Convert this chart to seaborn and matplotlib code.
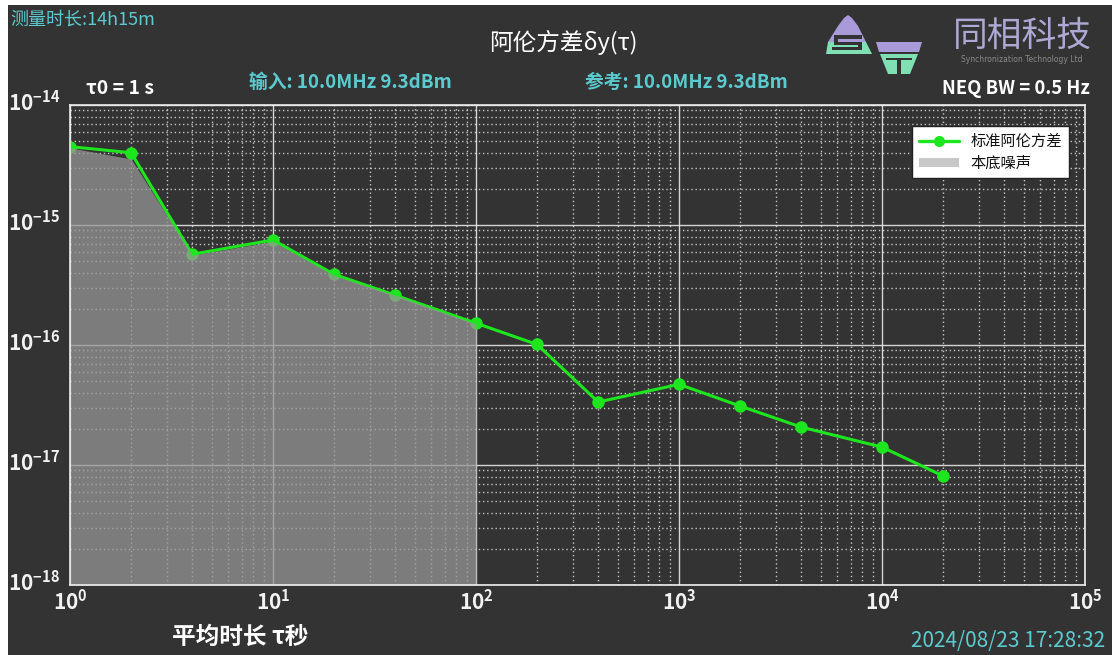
import numpy as np
import pandas as pd
import matplotlib
matplotlib.use("Agg")
import matplotlib.pyplot as plt
from matplotlib.patches import Rectangle, Polygon, Patch
from matplotlib.lines import Line2D
from matplotlib.ticker import LogLocator, FixedLocator
from matplotlib.transforms import ScaledTranslation
import seaborn as sns

# ---- data ----
taus = [1, 2, 4, 10, 20, 40, 100, 200, 400, 1000, 2000, 4000, 10000, 20000]
adev = [4.5e-15, 4.0e-15, 5.7e-16, 7.5e-16, 3.88e-16, 2.6e-16, 1.52e-16,
        1.01e-16, 3.35e-17, 4.7e-17, 3.1e-17, 2.07e-17, 1.41e-17, 8.1e-18]
noise_taus = [1, 2, 4, 10, 20, 40, 100]
noise_floor = [4.4e-15, 3.55e-15, 5.6e-16, 7.3e-16, 3.8e-16, 2.6e-16, 1.5e-16]
x_ticks = [1e0, 1e1, 1e2, 1e3, 1e4, 1e5]
y_ticks = [1e-18, 1e-17, 1e-16, 1e-15, 1e-14]

title_text = "阿伦方差δy(τ)"
duration_text = "测量时长:14h15m"
tau0_text = "τ0 = 1 s"
input_text = "输入: 10.0MHz 9.3dBm"
ref_text = "参考: 10.0MHz 9.3dBm"
neq_text = "NEQ BW = 0.5 Hz"
xlabel_text = "平均时长 τ秒"
stamp_text = "2024/08/23 17:28:32"
legend_labels = ["标准阿伦方差", "本底噪声"]

sns.set_theme(style="dark")
plt.rcParams['font.family'] = ['Noto Sans CJK SC', 'DejaVu Sans']
plt.rcParams['mathtext.default'] = 'regular'
plt.rcParams['axes.unicode_minus'] = False

BG = '#333333'
CYAN = '#5ccbcf'
GREEN = '#1ee61e'

W, H = 1112, 655
fig = plt.figure(figsize=(W / 100, H / 100), dpi=100)
fig.patch.set_facecolor('white')
fig.add_artist(Rectangle((8 / W, 0), 1 - 8 / W, 1 - 5 / H, transform=fig.transFigure,
                         facecolor=BG, edgecolor='none', zorder=-10))

ax = fig.add_axes([70 / W, 1 - 585 / H, (1085 - 70) / W, (585 - 105) / H])
ax.set_facecolor(BG)
ax.set_xscale('log')
ax.set_yscale('log')
ax.set_xlim(1, 1e5)
ax.set_ylim(1e-18, 1e-14)

df = pd.DataFrame({'tau': taus, 'adev': adev})
sns.lineplot(data=df, x='tau', y='adev', ax=ax, color=GREEN, marker='o',
             markersize=9, markeredgewidth=0, linewidth=2.2, zorder=1)

# noise floor (drawn over the line, semi-transparent, as in the reference)
ax.fill_between(noise_taus, [1e-18] * len(noise_taus), noise_floor,
                color='#969696', alpha=0.75, linewidth=0, zorder=2)

ax.set_axisbelow(True)
ax.xaxis.set_major_locator(FixedLocator(x_ticks))
ax.yaxis.set_major_locator(FixedLocator(y_ticks))
ax.xaxis.set_minor_locator(LogLocator(base=10, subs=np.arange(2, 10)))
ax.yaxis.set_minor_locator(LogLocator(base=10, subs=np.arange(2, 10)))
ax.grid(True, which='major', color='#e8e8e8', linewidth=1.0, linestyle='-', alpha=0.9, zorder=2.5)
ax.grid(True, which='minor', color='#e0e0e0', linewidth=1.0, linestyle=(0, (1, 2)), alpha=0.85,
        zorder=2.5)
for gl in ax.get_xgridlines() + ax.get_ygridlines():
    gl.set_zorder(2.5)
for t in ax.xaxis.get_minor_ticks() + ax.yaxis.get_minor_ticks():
    t.gridline.set_zorder(2.5)

ax.set_xticklabels([r'10$^{%d}$' % int(np.log10(v)) for v in x_ticks])
ax.set_yticklabels([r'10$^{%d}$' % int(np.log10(v)) for v in y_ticks])
ax.tick_params(axis='both', which='major', length=0, labelsize=15, colors='#f2f2f2')
ax.tick_params(axis='x', which='major', pad=3)
ax.tick_params(axis='y', which='major', pad=7)
ax.tick_params(axis='both', which='minor', length=3, direction='in', color='#dddddd', width=1)
for lab in ax.get_xticklabels() + ax.get_yticklabels():
    lab.set_fontweight('semibold')
shift_up = ScaledTranslation(0, 4 / 100, fig.dpi_scale_trans)
for lab in ax.get_yticklabels():
    lab.set_transform(lab.get_transform() + shift_up)
for s in ax.spines.values():
    s.set_color('#eeeeee')
    s.set_linewidth(1.2)
    s.set_visible(True)
    s.set_zorder(4)
ax.set_xlabel('')
ax.set_ylabel('')

# legend
handles = [Line2D([0], [0], color=GREEN, marker='o', markersize=8, linewidth=2.4, markeredgewidth=0),
           Patch(facecolor='#c8c8c8', edgecolor='none')]
leg = ax.legend(handles, legend_labels, loc='upper right', bbox_to_anchor=(0.992, 0.972),
                frameon=True, fancybox=False, fontsize=11, handlelength=2.6,
                borderpad=0.45, labelspacing=0.3, handleheight=0.55)
leg.get_frame().set_facecolor('white')
leg.get_frame().set_edgecolor('#222222')
leg.get_frame().set_alpha(1)
leg.set_zorder(5)
for t in leg.get_texts():
    t.set_color('#111111')

# texts
fig.text(10 / W, 1 - 20 / H, duration_text, color=CYAN, fontsize=13, va='center', ha='left')
fig.text(563 / W, 1 - 42 / H, title_text, color='white', fontsize=17, va='center', ha='center')
fig.text(120 / W, 1 - 88 / H, tau0_text, color='white', fontsize=14, va='center', ha='center',
         fontweight='bold')
fig.text(350 / W, 1 - 82 / H, input_text, color=CYAN, fontsize=13.5, va='center', ha='center',
         fontweight='bold')
fig.text(686 / W, 1 - 82 / H, ref_text, color=CYAN, fontsize=13.5, va='center', ha='center',
         fontweight='bold')
fig.text(1016 / W, 1 - 88 / H, neq_text, color='white', fontsize=13.3, va='center', ha='center',
         fontweight='bold')
fig.text(240 / W, 1 - 637 / H, xlabel_text, color='white', fontsize=17, va='center', ha='center',
         fontweight='bold')
fig.text(1008 / W, 1 - 641 / H, stamp_text, color=CYAN, fontsize=15, va='center', ha='center')

# logo
lax = fig.add_axes([826 / W, 1 - 76 / H, 100 / W, 64 / H])
lax.set_xlim(0, 100)
lax.set_ylim(64, 0)
lax.axis('off')
LAV = '#a99bd9'
MINT = '#7fe0b4'
lax.add_patch(Polygon([[2, 30], [12, 14], [18, 6], [22, 3], [26, 6], [32, 14], [40, 30]],
                      closed=True, facecolor=LAV, edgecolor='none'))
lax.add_patch(Polygon([[2, 30], [40, 30], [46, 42], [0, 42]], closed=True,
                      facecolor=MINT, edgecolor='none'))
lax.add_patch(Polygon([[8, 23], [36, 23], [36, 27], [12, 27], [12, 30], [36, 30], [36, 38],
                       [6, 38], [6, 35], [32, 35], [32, 33], [8, 33]], closed=True,
                      facecolor=BG, edgecolor='none'))
lax.add_patch(Polygon([[50, 30], [96, 30], [93, 40], [53, 40]], closed=True,
                      facecolor=LAV, edgecolor='none'))
lax.add_patch(Polygon([[54, 42], [92, 42], [84, 62], [62, 62]], closed=True,
                      facecolor=MINT, edgecolor='none'))
lax.add_patch(Polygon([[60, 46], [86, 46], [86, 48], [75, 48], [75, 62], [71, 62], [71, 48],
                       [60, 48]], closed=True, facecolor=BG, edgecolor='none'))

fig.text(1022 / W, 1 - 36 / H, "同相科技", color='#aea8d4', fontsize=25, va='center', ha='center',
         fontstyle='italic', fontweight='light')
fig.text(1022 / W, 1 - 60 / H, "Synchronization Technology Ltd", color='#8a8a8a', fontsize=5.5,
         va='center', ha='center', family=['DejaVu Sans'])

fig.savefig('out.png', dpi=100, facecolor=fig.get_facecolor())
